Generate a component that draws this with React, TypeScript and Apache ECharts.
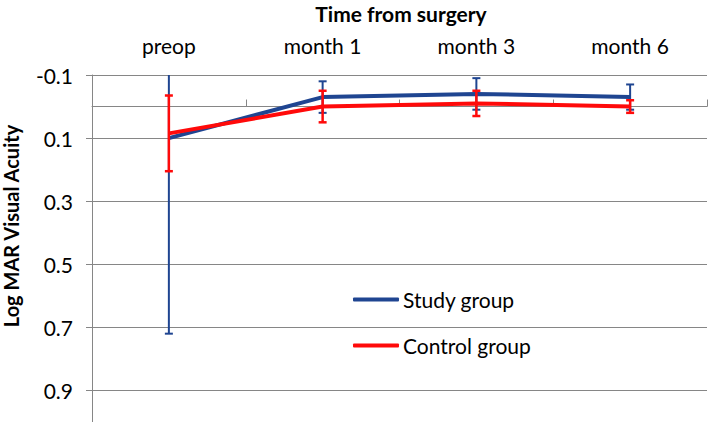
import React, { useEffect, useRef } from "react";
import * as echarts from "echarts";

const categories = ["preop", "month 1", "month 3", "month 6"];
const studyMean = [0.1, -0.03, -0.04, -0.03];
const studyErr = [0.62, 0.05, 0.05, 0.04];
const controlMean = [0.085, 0.0, -0.01, 0.0];
const controlErr = [0.12, 0.05, 0.04, 0.02];

const BLUE = "#1F4591";
const RED = "#FF0A0A";
const GRID = "#868686";
const FONT = "Lato, 'Open Sans', sans-serif";

function errSeries(name: string, means: number[], errs: number[], color: string, width: number) {
  return {
    type: "custom",
    name: name + " err",
    xAxisIndex: 0,
    yAxisIndex: 0,
    z: 3,
    data: means.map((m, i) => [i, m, errs[i]]),
    encode: { x: 0, y: 1 },
    renderItem: (params: any, api: any) => {
      const i = api.value(0);
      const v = api.value(1);
      const e = api.value(2);
      const p1 = api.coord([i, v - e]);
      const p2 = api.coord([i, v + e]);
      const cs = params.coordSys;
      const yMin = cs.y;
      const yMax = cs.y + cs.height;
      const cap = 4;
      const children: any[] = [];
      const topY = Math.max(yMin, Math.min(yMax, p1[1]));
      const botY = Math.max(yMin, Math.min(yMax, p2[1]));
      const style = { stroke: color, lineWidth: width };
      children.push({ type: "line", shape: { x1: p1[0], y1: topY, x2: p1[0], y2: botY }, style });
      if (p1[1] >= yMin && p1[1] <= yMax)
        children.push({ type: "line", shape: { x1: p1[0] - cap, y1: p1[1], x2: p1[0] + cap, y2: p1[1] }, style });
      if (p2[1] >= yMin && p2[1] <= yMax)
        children.push({ type: "line", shape: { x1: p2[0] - cap, y1: p2[1], x2: p2[0] + cap, y2: p2[1] }, style });
      return { type: "group", children };
    },
  };
}

export default function App() {
  const ref = useRef<HTMLDivElement>(null);
  useEffect(() => {
    if (!ref.current) return;
    const chart = echarts.init(ref.current, undefined, { renderer: "svg" });
    chart.setOption({
      animation: false,
      textStyle: { fontFamily: FONT },
      grid: { left: 92, right: 1, top: 75, bottom: 0, containLabel: false },
      legend: {
        orient: "vertical",
        left: 353,
        top: 289,
        padding: 0,
        itemWidth: 46,
        itemHeight: 4,
        itemGap: 25,
        icon: "roundRect",
        data: ["Study group", "Control group"],
        textStyle: { fontFamily: FONT, fontSize: 21, color: "#000", padding: [0, 0, 0, -1] },
      },
      graphic: [
        {
          type: "text",
          x: 401,
          y: 13,
          style: {
            text: "Time from surgery",
            fontFamily: FONT,
            fontWeight: "bold",
            fontSize: 21,
            fill: "#000",
            textAlign: "center",
            textVerticalAlign: "middle",
          },
        },
        {
          type: "text",
          x: 11,
          y: 226,
          rotation: Math.PI / 2,
          style: {
            text: "Log MAR Visual Acuity",
            fontFamily: FONT,
            fontWeight: "bold",
            fontSize: 20,
            fill: "#000",
            textAlign: "center",
            textVerticalAlign: "middle",
          },
        },
      ],
      xAxis: [
        {
          type: "category",
          data: categories,
          position: "top",
          axisLine: { show: false, onZero: false },
          axisTick: { show: false },
          axisLabel: { margin: 19, fontSize: 21, color: "#000", fontFamily: FONT },
          splitLine: { show: false },
        },
        {
          type: "category",
          data: categories,
          position: "bottom",
          axisLine: { show: true, onZero: true, lineStyle: { color: GRID, width: 1 } },
          axisTick: { show: true, inside: true, length: 7, lineStyle: { color: GRID } },
          axisLabel: { show: false },
          splitLine: { show: false },
        },
      ],
      yAxis: {
        type: "value",
        inverse: true,
        min: -0.1,
        max: 1.0,
        interval: 0.2,
        axisLine: { show: true, lineStyle: { color: GRID, width: 1 } },
        axisTick: { show: true, length: 6, lineStyle: { color: GRID } },
        axisLabel: {
          fontSize: 21,
          color: "#000",
          margin: 19,
          fontFamily: FONT,
          showMaxLabel: false,
          formatter: (v: number) => {
            const r = Math.round(v * 10) / 10;
            return r.toFixed(1);
          },
        },
        splitLine: { show: true, lineStyle: { color: GRID, width: 1 } },
      },
      series: [
        {
          name: "Study group",
          type: "line",
          xAxisIndex: 0,
          data: studyMean,
          symbol: "none",
          lineStyle: { color: BLUE, width: 4 },
          itemStyle: { color: BLUE },
          z: 2,
        },
        errSeries("Study group", studyMean, studyErr, BLUE, 2),
        {
          name: "Control group",
          type: "line",
          xAxisIndex: 0,
          data: controlMean,
          symbol: "none",
          lineStyle: { color: RED, width: 4 },
          itemStyle: { color: RED },
          z: 4,
        },
        { ...errSeries("Control group", controlMean, controlErr, RED, 2.5), z: 5 },
      ],
    });
    return () => chart.dispose();
  }, []);
  return (
    <div
      ref={ref}
      style={{ position: "fixed", left: 0, top: 0, width: 708, height: 422, background: "#fff" }}
    />
  );
}
